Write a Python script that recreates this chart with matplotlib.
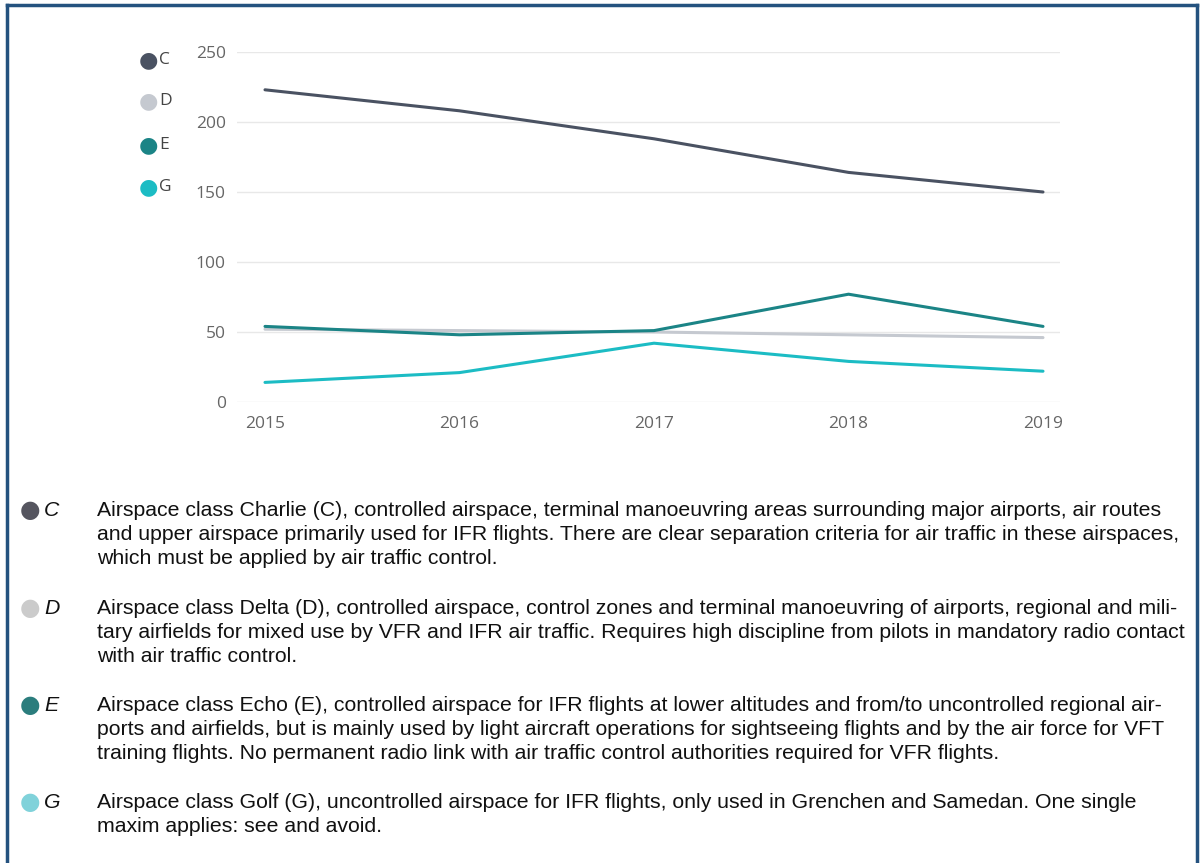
import matplotlib.pyplot as plt

years = [2015, 2016, 2017, 2018, 2019]
class_c = [223, 208, 188, 164, 150]
class_d = [52, 51, 50, 48, 46]
class_e = [54, 48, 51, 77, 54]
class_g = [14, 21, 42, 29, 22]

series_names = ['C', 'D', 'E', 'G']
line_colors = ['#4a5262', '#c5c9d0', '#1b8486', '#1cbcc4']
bullet_colors = ['#55555f', '#cbcbcb', '#2b7d7d', '#80d2da']
y_ticks = [0, 50, 100, 150, 200, 250]

descriptions = [
    ["Airspace class Charlie (C), controlled airspace, terminal manoeuvring areas surrounding major airports, air routes",
     "and upper airspace primarily used for IFR flights. There are clear separation criteria for air traffic in these airspaces,",
     "which must be applied by air traffic control."],
    ["Airspace class Delta (D), controlled airspace, control zones and terminal manoeuvring of airports, regional and mili-",
     "tary airfields for mixed use by VFR and IFR air traffic. Requires high discipline from pilots in mandatory radio contact",
     "with air traffic control."],
    ["Airspace class Echo (E), controlled airspace for IFR flights at lower altitudes and from/to uncontrolled regional air-",
     "ports and airfields, but is mainly used by light aircraft operations for sightseeing flights and by the air force for VFT",
     "training flights. No permanent radio link with air traffic control authorities required for VFR flights."],
    ["Airspace class Golf (G), uncontrolled airspace for IFR flights, only used in Grenchen and Samedan. One single",
     "maxim applies: see and avoid."],
]

W, H = 1200, 863
fig = plt.figure(figsize=(W / 100, H / 100), dpi=100)

# frame around the whole thing (no bottom edge)
border = '#24527f'
fig.add_artist(plt.Line2D([7 / W, 7 / W], [0, 1 - 5 / H], color=border, lw=2.5))
fig.add_artist(plt.Line2D([7 / W, 1197 / W], [1 - 5 / H, 1 - 5 / H], color=border, lw=2.5))
fig.add_artist(plt.Line2D([1197 / W, 1197 / W], [0, 1 - 5 / H], color=border, lw=2.5))

ax = fig.add_axes([237 / W, 1 - 402 / H, (1060 - 237) / W, 350 / H])
for name, vals, col in zip(series_names, [class_c, class_d, class_e, class_g], line_colors):
    ax.plot(years, vals, color=col, lw=2.2, solid_capstyle='round')
# D sits under E like the reference
ax.lines[1].set_zorder(1.5)

ax.set_xlim(2015 - 28 / 194.5, 2019 + 17 / 194.5)
ax.set_ylim(0, 250)
ax.set_xticks(years)
ax.set_yticks(y_ticks)
ax.grid(axis='y', color='#e8e8e8', lw=1)
ax.set_axisbelow(True)
for s in ax.spines.values():
    s.set_visible(False)
ax.tick_params(length=0, labelsize=12.5, colors='#666666', labelfontfamily='Open Sans')
ax.tick_params(axis='y', pad=8)
ax.tick_params(axis='x', pad=10)

# legend at top left
legend_y = [60, 101, 145, 187]
for name, col, ly in zip(series_names, line_colors, legend_y):
    fig.text(148 / W, 1 - ly / H, '\u25cf', color=col, fontsize=16, ha='center', va='center',
             family='DejaVu Sans')
    fig.text(159 / W, 1 - ly / H, name, color='#444444', fontsize=12.5, ha='left', va='center',
             family='Open Sans')

# description block
para_top = [510, 608, 705, 802]
for name, bcol, lines, top in zip(series_names, bullet_colors, descriptions, para_top):
    fig.text(30 / W, 1 - top / H, '\u25cf', color=bcol, fontsize=17, ha='center', va='center',
             family='DejaVu Sans')
    fig.text(44 / W, 1 - top / H, name, color='#111111', fontsize=15.3, ha='left', va='center',
             family='Liberation Sans', style='italic')
    for i, line in enumerate(lines):
        fig.text(97 / W, 1 - (top + 24 * i) / H, line, color='#111111', fontsize=15.3,
                 ha='left', va='center', family='Liberation Sans')

fig.savefig('out.png', dpi=100, facecolor='white')
